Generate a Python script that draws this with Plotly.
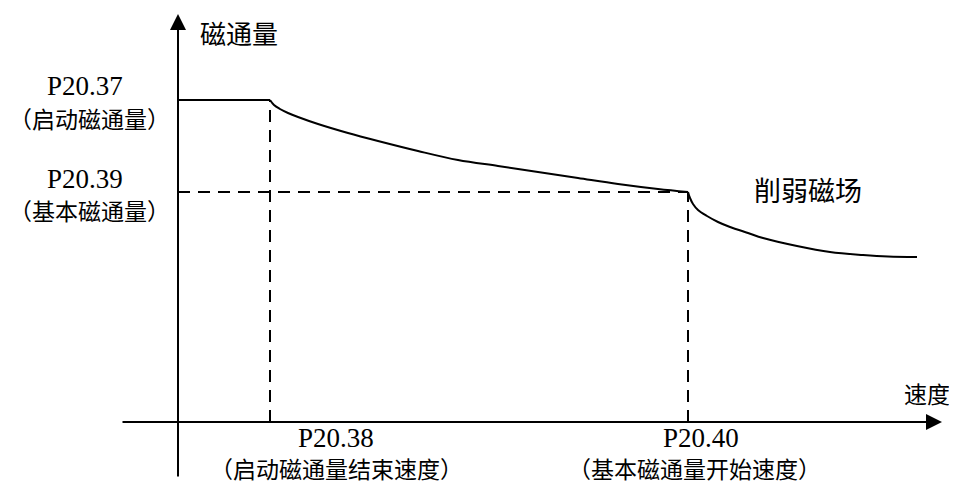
import plotly.graph_objects as go

# speed / flux (origin at the axes crossing)
start_speed = [0, 92]
start_flux = [322, 322]

curve1_speed = [92, 96, 102, 110, 120, 140, 170, 200, 240, 280, 320, 360, 400, 440, 480, 510]
curve1_flux = [322, 317, 313, 309, 305, 298, 289, 281, 271, 262, 256, 250, 244, 238, 233, 230]

weak_speed = [510, 512, 515, 520, 529, 540, 552, 570, 585, 619, 652, 685, 710, 739]
weak_flux = [230, 224, 218, 212, 206, 200, 195, 189, 184, 176, 170, 167, 165.5, 165]

p2038_speed = 92
p2040_speed = 510
p2037_flux = 322
p2039_flux = 230

CJK = "'Noto Sans CJK SC', sans-serif"
LAT = "'Liberation Serif', serif"

fig = go.Figure()

line = dict(color="black", width=2)
dash = dict(color="black", width=2, dash="12px,8px")

fig.add_trace(go.Scatter(x=start_speed, y=start_flux, mode="lines", line=line))
fig.add_trace(go.Scatter(x=curve1_speed, y=curve1_flux, mode="lines", line=line, line_shape="spline"))
fig.add_trace(go.Scatter(x=weak_speed, y=weak_flux, mode="lines", line=line, line_shape="spline"))

# dashed guides
fig.add_trace(go.Scatter(x=[p2038_speed, p2038_speed], y=[0, p2037_flux], mode="lines", line=dash))
fig.add_trace(go.Scatter(x=[0, p2040_speed], y=[p2039_flux, p2039_flux], mode="lines", line=dash))
fig.add_trace(go.Scatter(x=[p2040_speed, p2040_speed], y=[0, p2039_flux], mode="lines", line=dash))

# axes with arrows
fig.add_annotation(x=764, y=0, ax=-57, ay=0, xref="x", yref="y", axref="x", ayref="y",
                   showarrow=True, arrowhead=2, arrowsize=1.6, arrowwidth=2, arrowcolor="black", text="")
fig.add_annotation(x=0, y=408, ax=0, ay=-56, xref="x", yref="y", axref="x", ayref="y",
                   showarrow=True, arrowhead=2, arrowsize=1.6, arrowwidth=2, arrowcolor="black", text="")

# text, x, y, size, font, yanchor
labels = [
    ("磁通量", 61, 390, 26, CJK, "middle"),
    ("P20.37", -93, 319, 27, LAT, "bottom"),
    ("（启动磁通量）", -89, 304, 23, CJK, "middle"),
    ("P20.39", -93, 226, 27, LAT, "bottom"),
    ("（基本磁通量）", -89, 212, 23, CJK, "middle"),
    ("P20.38", 158, -33, 27, LAT, "bottom"),
    ("（启动磁通量结束速度）", 158, -46, 23, CJK, "middle"),
    ("P20.40", 523, -33, 27, LAT, "bottom"),
    ("（基本磁通量开始速度）", 516, -46, 23, CJK, "middle"),
    ("速度", 749, 29, 23, CJK, "middle"),
    ("削弱磁场", 630, 233, 27, CJK, "middle"),
]
for text, x, y, size, fam, ya in labels:
    fig.add_annotation(x=x, y=y, text=text, showarrow=False, yanchor=ya,
                       font=dict(family=fam, size=size, color="black"))

# ranges shifted by the 8px page margin
fig.update_xaxes(range=[-170, 787], visible=False)
fig.update_yaxes(range=[-76, 414], visible=False)
fig.update_layout(
    width=957, height=490,
    margin=dict(l=0, r=0, t=0, b=0),
    showlegend=False,
    plot_bgcolor="white", paper_bgcolor="white",
)

fig.write_html("out.html")
